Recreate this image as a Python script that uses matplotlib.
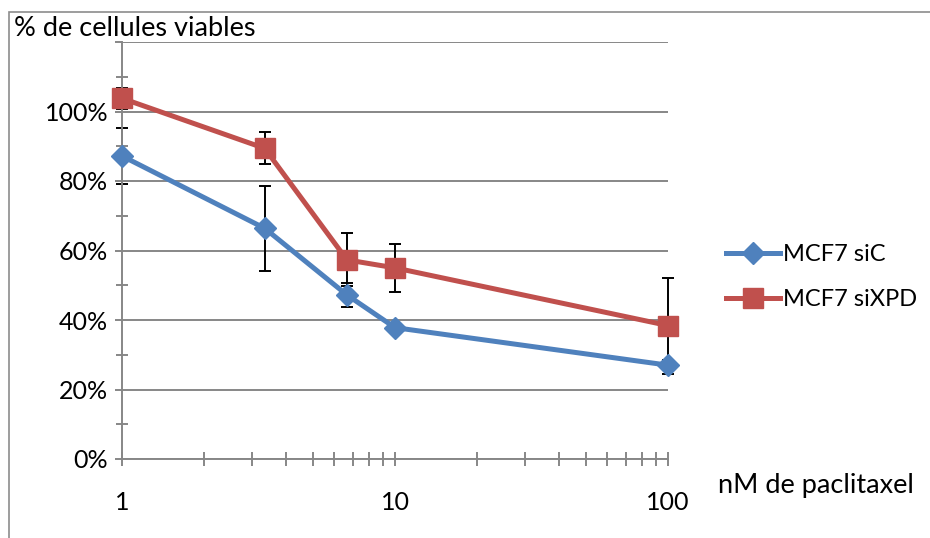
import matplotlib
matplotlib.use("Agg")
import matplotlib.pyplot as plt
from matplotlib.patches import Rectangle
from matplotlib.ticker import FixedLocator, NullFormatter

plt.rcParams['font.family'] = ['Lato', 'DejaVu Sans']

# data
doses = [1, 3.33, 6.67, 10, 100]
sic_vals = [87.2, 66.4, 47.2, 37.8, 27.0]
sic_err = [8.0, 12.3, 3.5, 1.0, 1.5]
sixpd_vals = [103.8, 89.4, 57.3, 55.0, 38.4]
sixpd_err = [3.0, 4.6, 7.6, 6.9, 13.8]
series_names = ["MCF7 siC", "MCF7 siXPD"]
y_ticks = [0, 20, 40, 60, 80, 100, 120]
y_labels = ["0%", "20%", "40%", "60%", "80%", "100%", ""]
x_ticks = [1, 10, 100]
x_labels = ["1", "10", "100"]

blue = "#4F81BD"
red = "#C0504D"
grey = "#878787"

W, H = 930, 538
fig = plt.figure(figsize=(W / 100, H / 100), dpi=100)
ax = fig.add_axes([122 / W, 1 - 459 / H, (668 - 122) / W, (459 - 42) / H])

# outer chart-area border (right and bottom edges run off the picture)
fig.add_artist(Rectangle((9 / W, -0.05), 1.2, 1 - 12 / H + 0.05,
                         transform=fig.transFigure, fill=False,
                         edgecolor="#8c8c8c", lw=1.2))

ax.set_xscale("log")
ax.set_xlim(1, 100)
ax.set_ylim(0, 120)

for y in y_ticks:
    ax.axhline(y, color=grey, lw=1.4, zorder=1)

for vals, err in [(sic_vals, sic_err), (sixpd_vals, sixpd_err)]:
    eb = ax.errorbar(doses, vals, yerr=err, fmt="none", ecolor="black",
                     elinewidth=1.4, capsize=4.5, capthick=1.4, zorder=2)
    for art in eb.get_children():
        art.set_clip_on(False)

ax.plot(doses, sic_vals, color=blue, lw=3.6, marker="D", markersize=11.5,
        label=series_names[0], zorder=3, clip_on=False)
ax.plot(doses, sixpd_vals, color=red, lw=3.6, marker="s", markersize=14,
        label=series_names[1], zorder=4, clip_on=False)

for s in ["top", "right"]:
    ax.spines[s].set_visible(False)
for s in ["left", "bottom"]:
    ax.spines[s].set_color(grey)
    ax.spines[s].set_linewidth(1.4)

ax.yaxis.set_major_locator(FixedLocator(y_ticks))
ax.set_yticklabels(y_labels)
ax.yaxis.set_minor_locator(FixedLocator([10, 30, 50, 70, 90, 110]))
ax.tick_params(axis="y", which="major", direction="out", length=5, width=1.4,
               color=grey, labelsize=18, pad=5)
ax.tick_params(axis="y", which="minor", direction="inout", length=8.5,
               width=1.4, color=grey)

ax.xaxis.set_major_locator(FixedLocator(x_ticks))
ax.set_xticklabels(x_labels)
ax.xaxis.set_minor_locator(FixedLocator([2, 3, 4, 5, 6, 7, 8, 9,
                                         20, 30, 40, 50, 60, 70, 80, 90]))
ax.xaxis.set_minor_formatter(NullFormatter())
ax.tick_params(axis="x", which="both", direction="inout", length=9.5,
               width=1.4, color=grey, labelsize=18, pad=18)

fig.text(14 / W, 1 - 29 / H, "% de cellules viables", fontsize=19.5,
         va="center", ha="left")
fig.text(718 / W, 1 - 486 / H, "nM de paclitaxel", fontsize=19.5,
         va="center", ha="left")

ax.legend(loc="center left", bbox_to_anchor=(726 / W, 1 - 277 / H),
          bbox_transform=fig.transFigure, frameon=False, fontsize=17,
          handlelength=2.3, handletextpad=0.1, labelspacing=1.0,
          borderpad=0, borderaxespad=0)

fig.savefig("out.png", dpi=100)
